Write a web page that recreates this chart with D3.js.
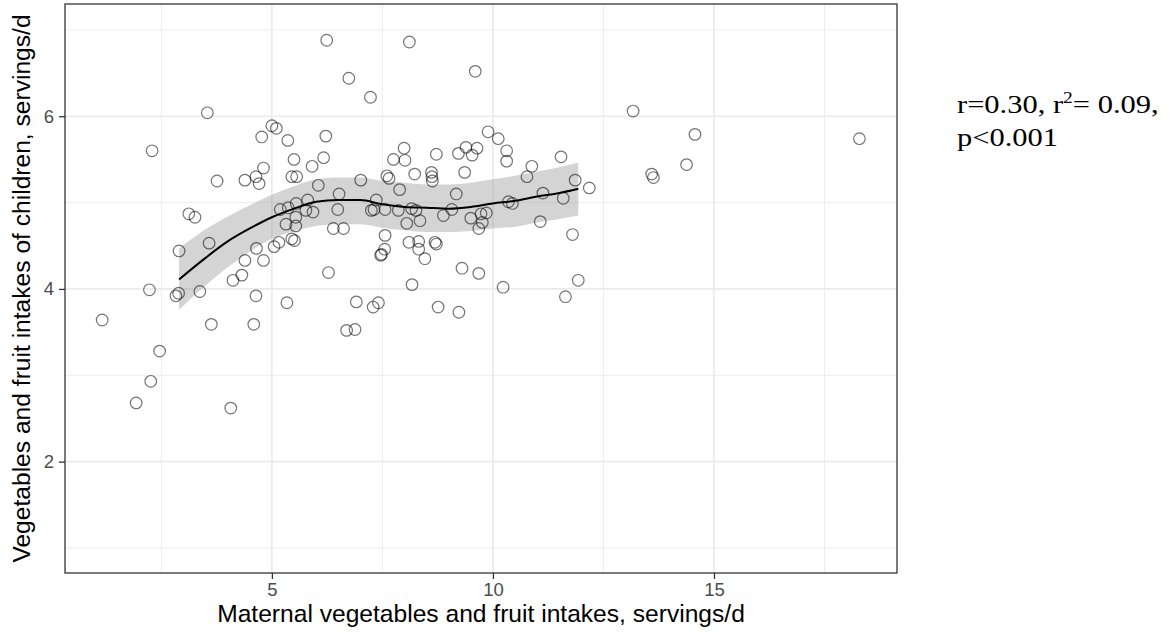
<!DOCTYPE html>
<html>
<head>
<meta charset="utf-8">
<script src="https://cdn.jsdelivr.net/npm/d3@7"></script>
<style>
  body { margin: 0; background: #fff; }
  text { font-family: "Liberation Sans", Arial, Helvetica, sans-serif; }
</style>
</head>
<body>
<script>
// maternal intake (x) and child intake (y)
var maternalIntake = [1.16, 1.93, 2.26, 2.46, 2.23, 2.29, 2.83, 2.89, 2.90, 3.37,
  3.54, 3.63, 3.58, 3.12, 3.26, 3.76, 4.07, 4.12, 4.32, 4.39,
  4.39, 4.59, 4.64, 4.65, 4.64, 4.71, 4.77, 4.81, 4.81, 5.00,
  5.10, 5.05, 5.16, 5.19, 5.32, 5.34, 5.36, 5.37, 5.45, 5.51,
  5.45, 5.56, 5.50, 5.55, 5.54, 5.54, 5.77, 5.81, 5.91, 5.93,
  6.05, 6.17, 6.22, 6.24, 6.28, 6.39, 6.62, 6.49, 6.52, 6.69,
  6.88, 6.74, 6.91, 7.01, 7.23, 7.25, 7.31, 7.29, 7.41, 7.36,
  7.46, 7.48, 7.55, 7.56, 7.56, 7.60, 7.65, 7.75, 7.86, 7.89,
  7.99, 8.01, 8.05, 8.11, 8.10, 8.16, 8.17, 8.23, 8.26, 8.32,
  8.32, 8.35, 8.46, 8.61, 8.62, 8.63, 8.69, 8.72, 8.72, 8.76,
  8.88, 9.07, 9.17, 9.22, 9.23, 9.30, 9.36, 9.39, 9.50, 9.53,
  9.60, 9.64, 9.68, 9.68, 9.73, 9.76, 9.85, 9.89, 10.12, 10.23,
  10.31, 10.31, 10.35, 10.44, 10.77, 10.88, 11.07, 11.13, 11.54, 11.59,
  11.64, 11.80, 11.86, 11.93, 12.18, 13.17, 13.59, 13.63, 14.38, 14.57,
  18.29];
var childIntake = [3.64, 2.68, 2.93, 3.28, 3.99, 5.60, 3.92, 3.95, 4.44, 3.97,
  6.04, 3.59, 4.53, 4.87, 4.83, 5.25, 2.62, 4.10, 4.16, 4.33,
  5.26, 3.59, 3.92, 4.47, 5.30, 5.22, 5.76, 5.40, 4.33, 5.89,
  5.86, 4.49, 4.54, 4.92, 4.75, 3.84, 5.72, 4.94, 4.58, 4.56,
  5.30, 5.30, 5.50, 4.99, 4.83, 4.73, 4.91, 5.03, 5.42, 4.89,
  5.20, 5.52, 5.77, 6.88, 4.19, 4.70, 4.70, 4.92, 5.10, 3.52,
  3.53, 6.44, 3.85, 5.26, 6.22, 4.91, 4.92, 3.79, 3.84, 5.03,
  4.39, 4.40, 4.46, 4.62, 4.92, 5.31, 5.28, 5.50, 4.91, 5.15,
  5.63, 5.49, 4.76, 6.86, 4.54, 4.93, 4.05, 5.33, 4.91, 4.55,
  4.46, 4.79, 4.35, 5.35, 5.30, 5.25, 4.54, 4.52, 5.56, 3.79,
  4.85, 4.92, 5.10, 5.57, 3.73, 4.24, 5.35, 5.64, 4.82, 5.55,
  6.52, 5.63, 4.18, 4.70, 4.87, 4.77, 4.88, 5.82, 5.74, 4.02,
  5.60, 5.48, 5.01, 4.99, 5.30, 5.42, 4.78, 5.11, 5.53, 5.05,
  3.91, 4.63, 5.26, 4.10, 5.17, 6.06, 5.33, 5.29, 5.44, 5.79,
  5.74];

// loess fit and its confidence band
var smoothX = [2.9, 3.5, 4.0, 4.5, 5.0, 5.5, 6.0, 6.5, 7.0, 7.5, 8.0, 8.5, 9.0, 9.5, 10.0, 10.5, 11.0, 11.5, 11.93];
var smoothFit = [4.11, 4.36, 4.55, 4.70, 4.83, 4.93, 5.01, 5.03, 5.03, 4.98, 4.95, 4.94, 4.93, 4.95, 4.99, 5.02, 5.07, 5.11, 5.16];
var smoothLower = [3.76, 4.04, 4.25, 4.43, 4.58, 4.67, 4.73, 4.75, 4.75, 4.71, 4.68, 4.66, 4.66, 4.67, 4.70, 4.72, 4.77, 4.81, 4.85];
var smoothUpper = [4.47, 4.69, 4.84, 4.97, 5.09, 5.19, 5.27, 5.29, 5.29, 5.25, 5.23, 5.21, 5.21, 5.23, 5.27, 5.31, 5.36, 5.41, 5.46];

var xTicks = [5, 10, 15],
    xMinor = [2.5, 7.5, 12.5, 17.5],
    yTicks = [2, 4, 6],
    yMinor = [1, 3, 5, 7];

var margin = {top: 4, right: 279, bottom: 63, left: 65},
    width = 1176,
    height = 636,
    innerW = width - margin.left - margin.right,
    innerH = height - margin.top - margin.bottom;

var svg = d3.select("body").append("svg")
    .attr("width", width)
    .attr("height", height);

var g = svg.append("g")
    .attr("transform", "translate(" + margin.left + "," + margin.top + ")");

var x = d3.scaleLinear().domain([0.32, 19.14]).range([0, innerW]);
var y = d3.scaleLinear().domain([0.71, 7.30]).range([innerH, 0]);

// grid
g.selectAll(".xminor").data(xMinor).enter().append("line")
    .attr("x1", x).attr("x2", x).attr("y1", 0).attr("y2", innerH)
    .style("stroke", "#ebebeb").style("stroke-width", 0.9);
g.selectAll(".yminor").data(yMinor).enter().append("line")
    .attr("y1", y).attr("y2", y).attr("x1", 0).attr("x2", innerW)
    .style("stroke", "#ebebeb").style("stroke-width", 0.9);
g.selectAll(".xmajor").data(xTicks).enter().append("line")
    .attr("x1", x).attr("x2", x).attr("y1", 0).attr("y2", innerH)
    .style("stroke", "#ebebeb").style("stroke-width", 1.7);
g.selectAll(".ymajor").data(yTicks).enter().append("line")
    .attr("y1", y).attr("y2", y).attr("x1", 0).attr("x2", innerW)
    .style("stroke", "#ebebeb").style("stroke-width", 1.7);

// confidence band
var band = smoothX.map(function(d, i) { return {x: d, lo: smoothLower[i], hi: smoothUpper[i], fit: smoothFit[i]}; });

g.append("path")
    .datum(band)
    .attr("d", d3.area()
      .x(function(d) { return x(d.x); })
      .y0(function(d) { return y(d.lo); })
      .y1(function(d) { return y(d.hi); })
      .curve(d3.curveMonotoneX))
    .style("fill", "#999").style("fill-opacity", 0.42);

// points
var pts = maternalIntake.map(function(d, i) { return {x: d, y: childIntake[i]}; });
g.selectAll(".pt")
    .data(pts)
  .enter().append("circle")
    .attr("class", "pt")
    .attr("cx", function(d) { return x(d.x); })
    .attr("cy", function(d) { return y(d.y); })
    .attr("r", 5.8)
    .style("fill", "none")
    .style("stroke", "#000")
    .style("stroke-opacity", 0.55)
    .style("stroke-width", 1.2);

// fitted line
g.append("path")
    .datum(band)
    .attr("d", d3.line()
      .x(function(d) { return x(d.x); })
      .y(function(d) { return y(d.fit); })
      .curve(d3.curveMonotoneX))
    .style("fill", "none").style("stroke", "#000").style("stroke-width", 2);

// axes
var xAxis = g.append("g")
    .attr("transform", "translate(0," + innerH + ")")
    .call(d3.axisBottom(x).tickValues(xTicks).tickFormat(d3.format("d")).tickSize(6).tickPadding(4));
var yAxis = g.append("g")
    .call(d3.axisLeft(y).tickValues(yTicks).tickFormat(d3.format("d")).tickSize(6).tickPadding(5));

[xAxis, yAxis].forEach(function(a) {
  a.select(".domain").remove();
  a.selectAll("line").style("stroke", "#333").style("stroke-width", 1.3);
  a.selectAll("text").style("font-size", "18.5px").style("fill", "#4d4d4d")
    .style("font-family", "'Liberation Sans', Arial, sans-serif");
});

// panel border
g.append("rect")
    .attr("width", innerW).attr("height", innerH)
    .style("fill", "none").style("stroke", "#333").style("stroke-width", 1.3);

// axis titles
svg.append("text")
    .attr("x", margin.left + innerW / 2)
    .attr("y", 622)
    .attr("text-anchor", "middle")
    .style("font-size", "24.6px")
    .text("Maternal vegetables and fruit intakes, servings/d");

svg.append("text")
    .attr("transform", "translate(30," + (margin.top + innerH / 2) + ") rotate(-90)")
    .attr("text-anchor", "middle")
    .style("font-size", "24.6px")
    .text("Vegetables and fruit intakes of children, servings/d");

// annotation
var note = svg.append("g")
    .attr("transform", "translate(957,0) scale(1.22,1)")
    .style("font-family", "'Liberation Serif', 'Times New Roman', serif")
    .style("font-size", "25px");

var line1 = note.append("text").attr("x", 0).attr("y", 113)
    .style("font-family", "'Liberation Serif', 'Times New Roman', serif");
line1.append("tspan").text("r=0.30, r");
line1.append("tspan").attr("dy", -10).style("font-size", "16px").text("2");
line1.append("tspan").attr("dy", 10).text("= 0.09,");

note.append("text").attr("x", 0).attr("y", 146)
    .style("font-family", "'Liberation Serif', 'Times New Roman', serif")
    .text("p<0.001");
</script>
</body>
</html>
